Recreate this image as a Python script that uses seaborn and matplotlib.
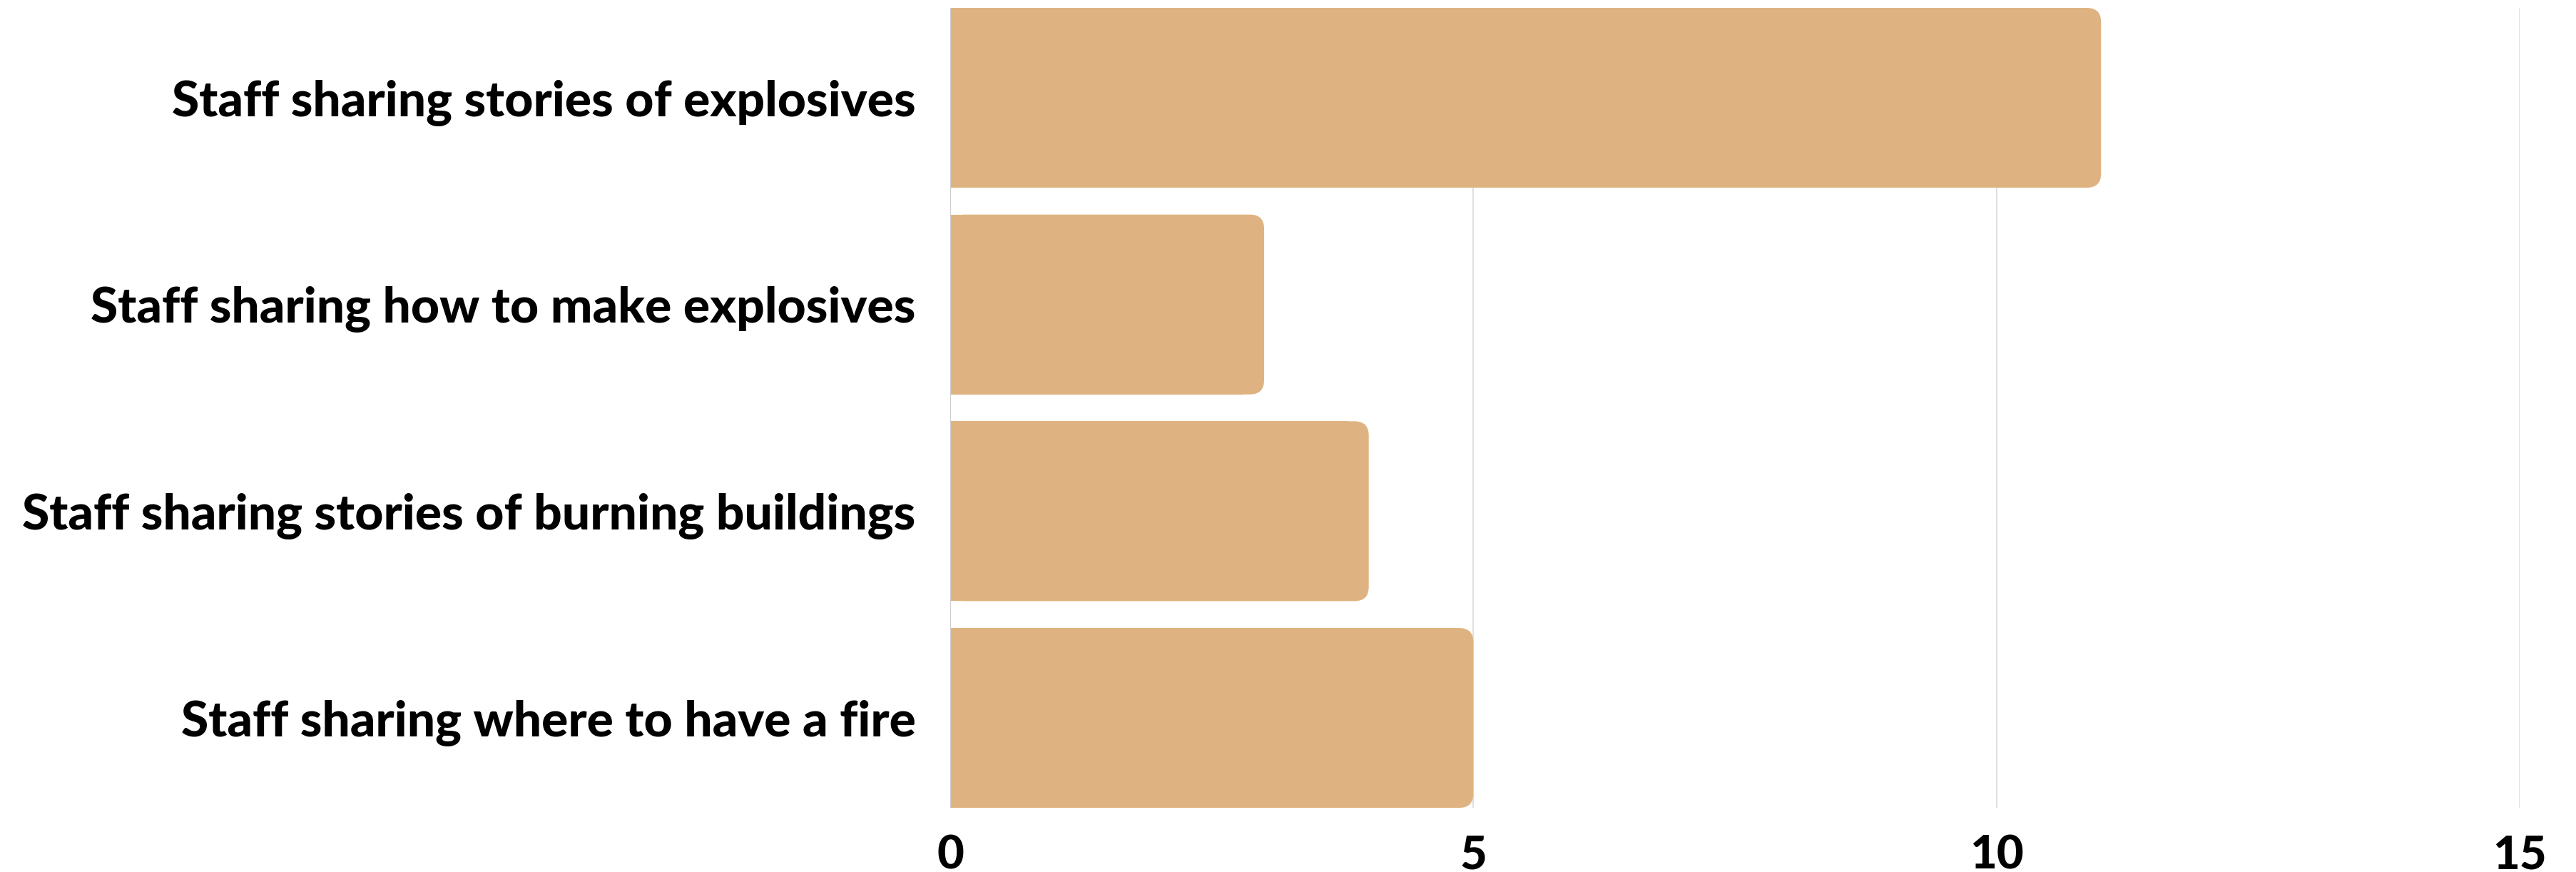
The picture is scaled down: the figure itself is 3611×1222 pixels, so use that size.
import matplotlib
matplotlib.use("Agg")
import matplotlib.pyplot as plt
import seaborn as sns
import pandas as pd
from matplotlib.patches import FancyBboxPatch, Rectangle

# data
categories = [
    "Staff sharing stories of explosives",
    "Staff sharing how to make explosives",
    "Staff sharing stories of burning buildings",
    "Staff sharing where to have a fire",
]
counts = [11, 3, 4, 5]
x_ticks = [0, 5, 10, 15]

BAR_COLOR = "#DEB381"

sns.set_theme(style="white")
plt.rcParams["font.family"] = ["Lato", "DejaVu Sans"]

df = pd.DataFrame({"category": categories, "count": counts})

fig = plt.figure(figsize=(36.12, 12.22), dpi=100)
ax = fig.add_axes([0.3688, 0.0736, 0.9778 - 0.3688, 0.991 - 0.0736])

sns.barplot(data=df, x="count", y="category", color=BAR_COLOR, width=0.87,
            saturation=1, ax=ax, zorder=2)

# round the right end of each bar
r_x = 0.136
r_y = 0.069
for p in list(ax.patches):
    x0, y0 = p.get_x(), p.get_y()
    w, h = p.get_width(), p.get_height()
    p.set_visible(False)
    ax.add_patch(FancyBboxPatch((x0, y0), w, h,
                                boxstyle=f"round,pad=0,rounding_size={r_x}",
                                mutation_aspect=r_y / r_x,
                                facecolor=BAR_COLOR, edgecolor="none", zorder=2))
    ax.add_patch(Rectangle((x0, y0), w - r_x * 1.5, h,
                           facecolor=BAR_COLOR, edgecolor="none", zorder=2))

ax.set_xlim(0, 15)
ax.set_ylim(3.435, -0.435)
ax.set_xticks(x_ticks)
ax.set_xticklabels([str(t) for t in x_ticks])
ax.set_xlabel("")
ax.set_ylabel("")

for x in x_ticks[1:]:
    ax.axvline(x, color="#d9d9d9", linewidth=1.2, zorder=1)
ax.axvline(0, color="#cccccc", linewidth=1.6, zorder=3)

for s in ax.spines.values():
    s.set_visible(False)

ax.tick_params(axis="x", length=0, pad=27, labelsize=47, labelcolor="black")
ax.tick_params(axis="y", length=0, pad=35, labelsize=50, labelcolor="black")
for lbl in ax.get_xticklabels() + ax.get_yticklabels():
    lbl.set_fontweight("black")

fig.savefig("out.png", dpi=100, facecolor="white")
